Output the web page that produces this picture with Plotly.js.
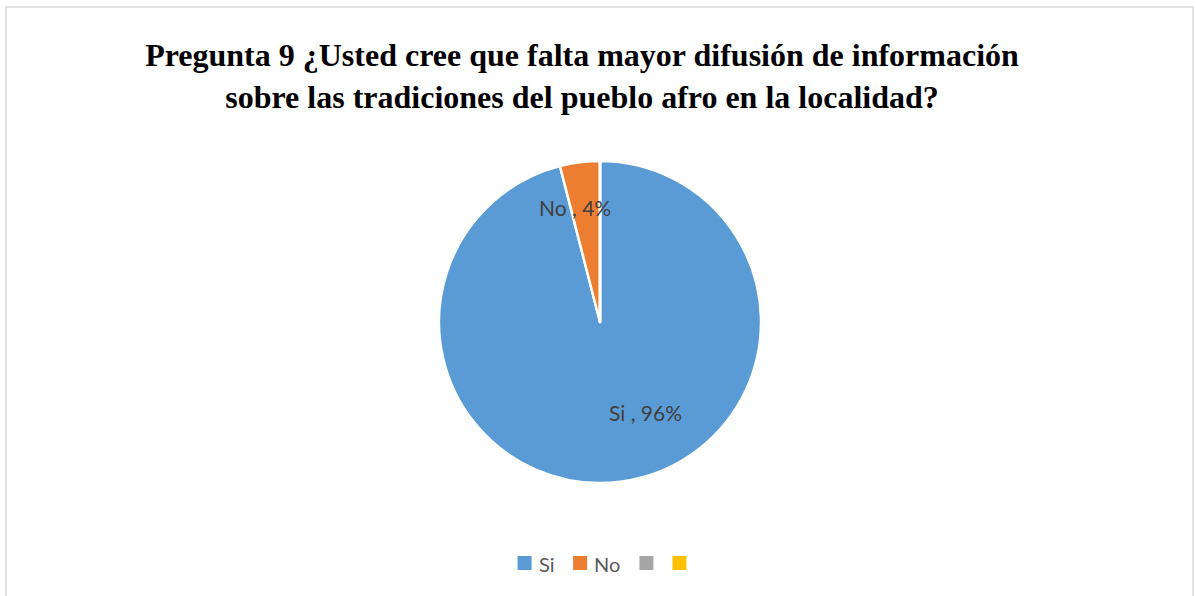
<!DOCTYPE html>
<html>
<head>
<meta charset="utf-8">
<script src="https://cdn.plot.ly/plotly-3.0.1.min.js"></script>
<style>html,body{margin:0;padding:0;background:#fff;}#chart{width:1196px;height:596px;}</style>
</head>
<body>
<div id="chart"></div>
<script>
const categories = ["Si", "No", "", ""];
const values = [96, 4, 0, 0];
const colors = ["#5b9bd5", "#ed7d31", "#a5a5a5", "#ffc000"];
const titleLines = ["Pregunta 9 ¿Usted cree que falta mayor difusión de información", "sobre las tradiciones del pueblo afro en la localidad?"];

const W = 1196, H = 596;
const total = values.reduce((a, b) => a + b, 0);
const labelFont = "Lato, 'Liberation Sans', sans-serif";
const labelPos = [{x: 645, y: 412}, {x: 575, y: 207}];

const annotations = [];
for (let i = 0; i < 2; i++) {
  annotations.push({
    text: categories[i] + " , " + Math.round(values[i] / total * 100) + "%",
    x: labelPos[i].x / W, y: 1 - labelPos[i].y / H, xref: "paper", yref: "paper",
    showarrow: false, xanchor: "center", yanchor: "middle",
    font: {family: labelFont, size: 21, color: "#404040"}
  });
}

// custom legend (larger square markers, as in the reference)
const shapes = [{type: "rect", xref: "paper", yref: "paper", x0: 6 / W, x1: 1193 / W, y0: -0.05, y1: 1 - 7 / H, line: {color: "#d9d9d9", width: 1.5}, fillcolor: "rgba(0,0,0,0)"}];
const ctx = document.createElement("canvas").getContext("2d");
ctx.font = "20px Lato";
const sq = 14, legY = 563;
const widths = categories.map(c => c ? ctx.measureText(c).width : 0);
let totalW = 0;
categories.forEach((c, i) => { totalW += sq + (i < categories.length - 1 ? (c ? 6 + widths[i] + 20 : 19) : (c ? 6 + widths[i] : 0)); });
let lx = 602 - totalW / 2;
categories.forEach((c, i) => {
  shapes.push({type: "rect", xref: "paper", yref: "paper", x0: lx / W, x1: (lx + sq) / W, y0: 1 - (legY + sq / 2) / H, y1: 1 - (legY - sq / 2) / H, line: {width: 0}, fillcolor: colors[i]});
  if (c) {
    annotations.push({text: c, x: (lx + sq + 6) / W, y: 1 - (legY + 1) / H, xref: "paper", yref: "paper", showarrow: false, xanchor: "left", yanchor: "middle", xshift: -1,
      font: {family: labelFont, size: 20, color: "#595959"}});
  }
  lx += sq + (c ? 6 + widths[i] + 20 : 19);
});

const trace = {
  type: "pie",
  labels: categories.map((c, i) => c || "blank" + i),
  values: values,
  sort: false,
  direction: "clockwise",
  rotation: 0,
  marker: {colors: colors, line: {color: "#ffffff", width: 2.5}},
  textinfo: "none",
  hoverinfo: "label+percent",
  domain: {x: [4 / W, 1], y: [1 - 483 / H, 1 - 161 / H]},
  showlegend: false
};

const layout = {
  width: W, height: H,
  margin: {l: 0, r: 0, t: 0, b: 0},
  paper_bgcolor: "#ffffff",
  showlegend: false,
  title: {
    text: titleLines.join("<br>"),
    x: 582 / W, xanchor: "center", y: 1 - 66 / H, yanchor: "top",
    font: {family: "'Liberation Serif', 'Times New Roman', serif", size: 32, color: "#000000", weight: "bold"}
  },
  annotations: annotations,
  shapes: shapes
};

Plotly.newPlot("chart", [trace], layout, {displayModeBar: false, staticPlot: true});
</script>
</body>
</html>
